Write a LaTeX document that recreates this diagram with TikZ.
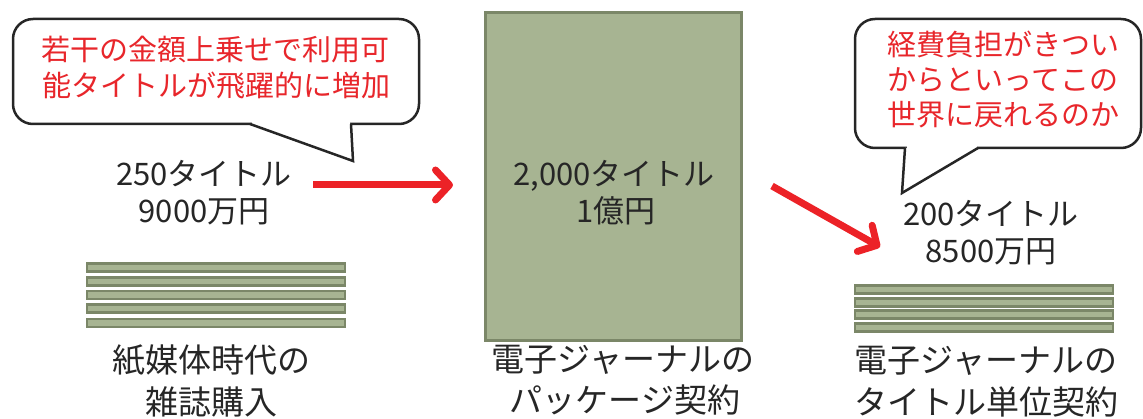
\documentclass[tikz,border=0pt]{standalone}
\usepackage{fontspec}
\setmainfont{Noto Sans CJK JP}
\usetikzlibrary{arrows.meta}
\definecolor{txt}{HTML}{262626}
\definecolor{calred}{HTML}{E8262B}
\definecolor{arrred}{HTML}{EC2227}
\definecolor{gfill}{HTML}{A7B492}
\definecolor{gline}{HTML}{7B8768}
\begin{document}
\begin{tikzpicture}[x=1pt,y=-1pt,
  lbl/.style={font=\fontsize{31}{37}\selectfont, text=txt, anchor=base, inner sep=0pt},
  bottomlbl/.style={font=\fontsize{33}{40}\selectfont, text=txt, anchor=base, inner sep=0pt},
  redtxt/.style={font=\fontsize{29}{36}\selectfont, text=calred, anchor=base, inner sep=0pt},
  calloutbox/.style={draw=black!85, line width=2.5pt, fill=white, rounded corners=20pt, inner sep=0pt},
  tailline/.style={draw=black!85, line width=2.5pt, line join=miter},
  pkgbox/.style={draw=gline, line width=3pt, fill=gfill, inner sep=0pt},
  bar/.style={draw=gline, line width=2.5pt, fill=gfill},
  redarrow/.style={draw=arrred, line width=7pt, -{Straight Barb[length=14pt,width=30pt,round]}}
]
\useasboundingbox (0,0) rectangle (1143,419);

% left callout
\node[calloutbox, minimum width=406pt, minimum height=105pt] (c1) at (216,71.5) {};
\coordinate (c1a) at (250,124);
\coordinate (c1tip) at (353,161);
\coordinate (c1b) at (351,124);
\fill[white] (c1a) -- (c1tip) -- (c1b) -- cycle;
\fill[white] (251.5,121.5) rectangle (349.5,126.5);
\draw[tailline] (c1a) -- (c1tip) -- (c1b);
\node[redtxt] (r11) at (215,61) {若干の金額上乗せで利用可};
\node[redtxt] (r12) at (216,97) {能タイトルが飛躍的に増加};

% right callout
\node[calloutbox, minimum width=286pt, minimum height=129pt] (c2) at (998,83.5) {};
\coordinate (c2a) at (905,148);
\coordinate (c2tip) at (902,193);
\coordinate (c2b) at (978,148);
\fill[white] (c2a) -- (c2tip) -- (c2b) -- cycle;
\fill[white] (906.5,145.5) rectangle (976.5,150.5);
\draw[tailline] (c2a) -- (c2tip) -- (c2b);
\node[redtxt] (r21) at (1003,56) {経費負担がきつい};
\node[redtxt] (r22) at (1003,91) {からといってこの};
\node[redtxt] (r23) at (1003,126) {世界に戻れるのか};

% package box
\node[pkgbox, minimum width=256pt, minimum height=328pt] (pkg) at (613,177) {};

% labels
\node[lbl] (l1) at (204,186) {250タイトル};
\node[lbl] (l2) at (204,223) {9000万円};
\node[lbl] (m1) at (614,186) {2,000タイトル};
\node[lbl] (m2) at (616,223) {1億円};
\node[lbl] (r1) at (991,226) {200タイトル};
\node[lbl] (r2) at (991,263) {8500万円};

% bars left
\foreach \y in {267.5,281.5,295,308.5,323}{
  \draw[bar] (87,\y-4) rectangle (345,\y+4);
}
% bars right
\foreach \y in {289.5,302.5,314.5,327.5}{
  \draw[bar] (855,\y-4) rectangle (1113,\y+4);
}

% bottom labels
\node[bottomlbl] (b11) at (211,373) {紙媒体時代の};
\node[bottomlbl] (b12) at (211,414) {雑誌購入};
\node[bottomlbl] (b21) at (623,372) {電子ジャーナルの};
\node[bottomlbl] (b22) at (625,412) {パッケージ契約};
\node[bottomlbl] (b31) at (986,373) {電子ジャーナルの};
\node[bottomlbl] (b32) at (986,414) {タイトル単位契約};

% arrows
\coordinate (a1s) at (313,185);
\coordinate (a1e) at (453,185);
\coordinate (a2s) at (772,186);
\coordinate (a2e) at (880,247);
\draw[redarrow] (a1s) -- (a1e);
\draw[redarrow] (a2s) -- (a2e);
\end{tikzpicture}
\end{document}
